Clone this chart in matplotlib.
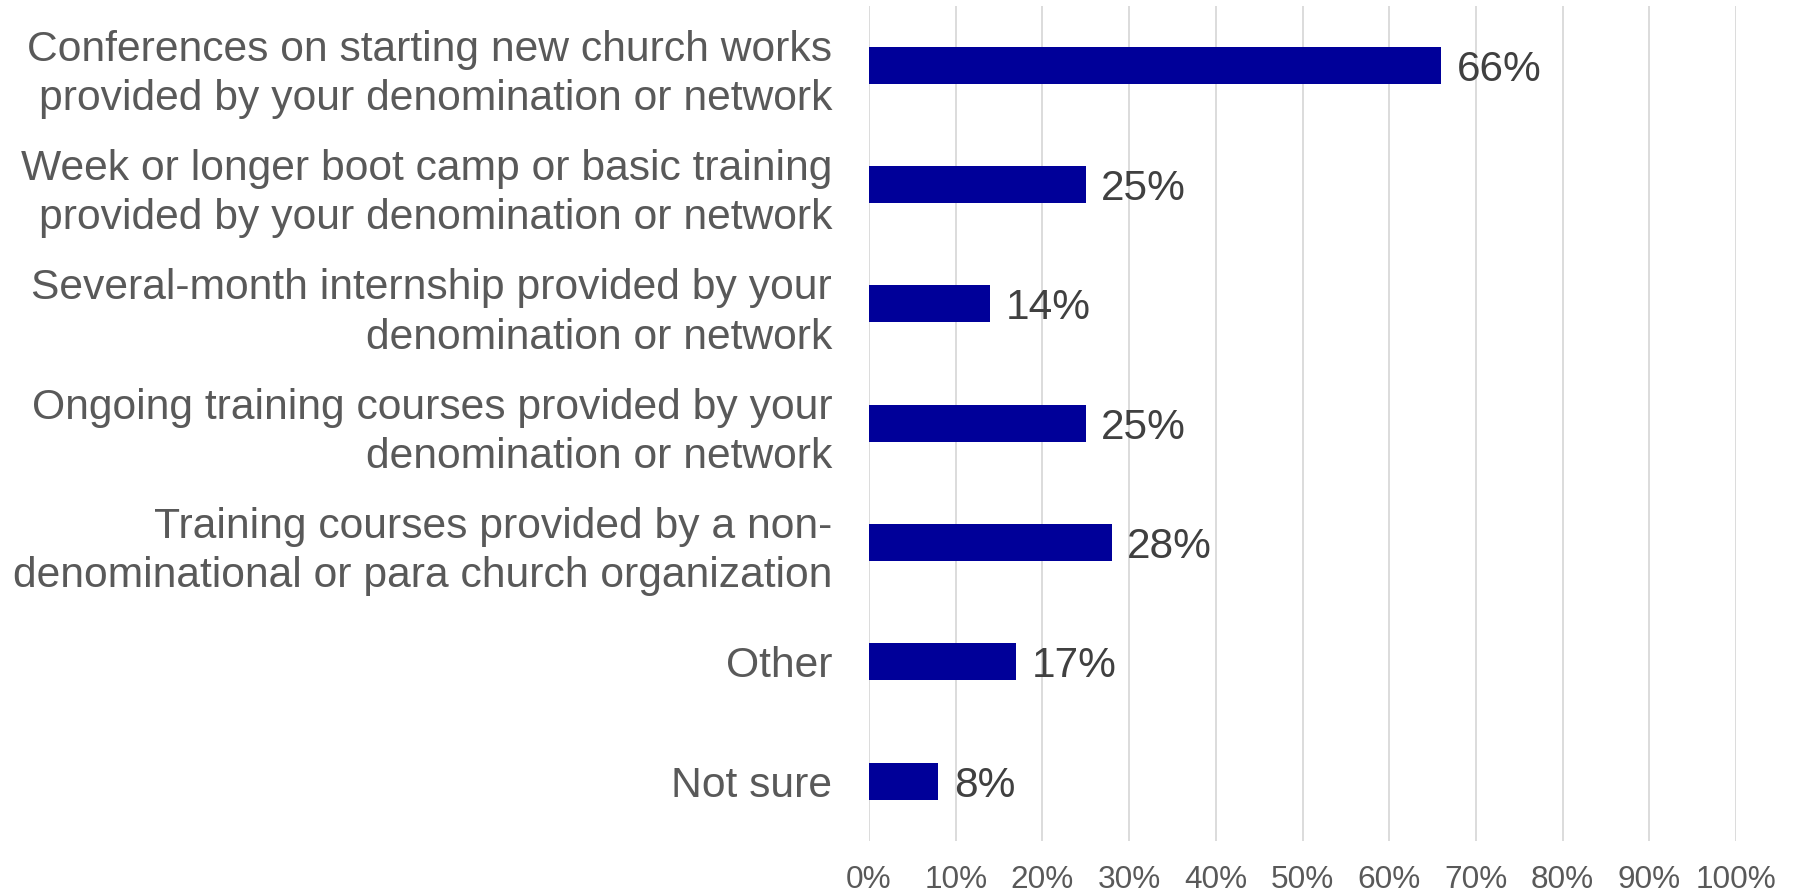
import matplotlib
matplotlib.use("Agg")
import matplotlib.pyplot as plt
from matplotlib.ticker import FixedLocator

categories = [
    "Conferences on starting new church works\nprovided by your denomination or network",
    "Week or longer boot camp or basic training\nprovided by your denomination or network",
    "Several-month internship provided by your\ndenomination or network",
    "Ongoing training courses provided by your\ndenomination or network",
    "Training courses provided by a non-\ndenominational or para church organization",
    "Other",
    "Not sure",
]
values = [66, 25, 14, 25, 28, 17, 8]
xticks = [0, 10, 20, 30, 40, 50, 60, 70, 80, 90, 100]
xtick_labels = [f"{v}%" for v in xticks]

plt.rcParams['font.family'] = ['Liberation Sans', 'DejaVu Sans']

fig = plt.figure(figsize=(17.94, 8.93), dpi=100)
ax = fig.add_axes([869/1794, 1 - 841/893, (1736 - 869)/1794, (841 - 5.6)/893])

n = len(categories)
ypos = list(range(n))
ax.barh(ypos, values, height=0.31, color="#000099", zorder=3)
ax.set_ylim(n - 0.5, -0.5)
ax.set_xlim(0, 100)

ax.set_yticks(ypos)
ax.set_yticklabels(categories, fontsize=30.7, color="#595959", linespacing=1.3, ha="right")
ax.xaxis.set_major_locator(FixedLocator(xticks))
ax.set_xticklabels(xtick_labels, fontsize=22.7, color="#595959")

ax.tick_params(axis="y", length=0, pad=26.5)
ax.tick_params(axis="x", length=0, pad=17)

for s in ax.spines.values():
    s.set_visible(False)
ax.grid(axis="x", color="#D9D9D9", linewidth=1.3, zorder=0)
ax.set_axisbelow(True)

for y, v in zip(ypos, values):
    ax.annotate(f"{v}%", xy=(v, y), xytext=(11, 0), textcoords="offset points",
                va="center_baseline", ha="left", fontsize=30.5, color="#404040")

fig.savefig("out.png", dpi=100)
